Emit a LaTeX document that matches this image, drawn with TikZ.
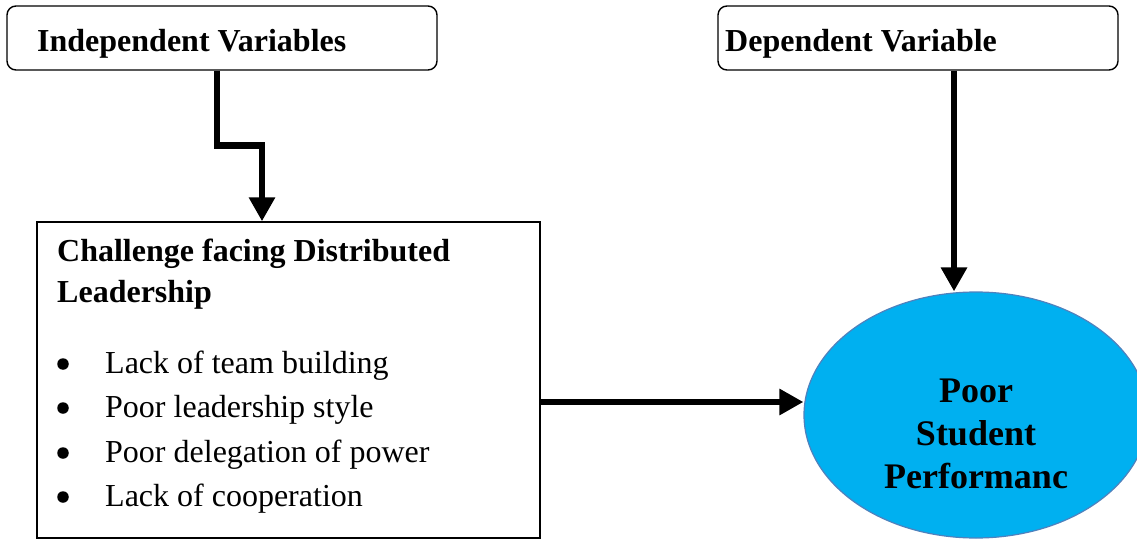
\documentclass[tikz,border=0pt]{standalone}
\usepackage{fontspec}
\setmainfont{Liberation Serif}
\usetikzlibrary{positioning,shapes.geometric,arrows.meta}
\definecolor{PerfBlue}{HTML}{00B0F0}
\definecolor{PerfEdge}{HTML}{4F81BD}
\newcommand{\varfont}{\fontsize{32}{38}\selectfont\bfseries}
\newcommand{\itemfont}{\fontsize{32}{38}\selectfont}
\newcommand{\perffont}{\fontsize{36}{43}\selectfont\bfseries}

\begin{document}
\begin{tikzpicture}[x=1pt, y=-1pt, every node/.style={inner sep=0pt},
  flow/.style={line width=6.5pt, -{Triangle[length=24pt,width=25pt]}},
  varbox/.style={draw, rounded corners=9pt, line width=1.4pt, minimum height=64pt},
  bullet/.style={circle, fill, minimum size=11.5pt}]
  \useasboundingbox (0,0) rectangle (1137,540);
  % Variable boxes
  \node[varbox, minimum width=430pt] (indep) at (222,38) {};
  \node[anchor=base west, font=\varfont] (indeplabel) at (37,52) {Independent Variables};
  \node[varbox, minimum width=400pt] (dep) at (918,38) {};
  \node[anchor=base west, font=\varfont] (deplabel) at (725,52) {Dependent Variable};
  % Challenge box
  \node[draw, line width=1.4pt, minimum width=503pt, minimum height=316pt] (chbox) at (288.5,380) {};
  \node[anchor=base west, font=\varfont] (chhead1) at (57,261) {Challenge facing Distributed};
  \node[anchor=base west, font=\varfont] (chhead2) at (57,302) {Leadership};
  \node[bullet] (dot1) at (63,364) {};
  \node[anchor=base west, font=\itemfont] (item1) at (105,373) {Lack of team building};
  \node[bullet] (dot2) at (63,408) {};
  \node[anchor=base west, font=\itemfont] (item2) at (105,417) {Poor leadership style};
  \node[bullet] (dot3) at (63,453) {};
  \node[anchor=base west, font=\itemfont] (item3) at (105,462) {Poor delegation of power};
  \node[bullet] (dot4) at (63,497) {};
  \node[anchor=base west, font=\itemfont] (item4) at (105,506) {Lack of cooperation};
  % Outcome
  \node[ellipse, draw=PerfEdge, fill=PerfBlue, line width=1.2pt, minimum width=344pt, minimum height=246pt] (perf) at (976,415) {};
  \node[anchor=base, font=\perffont] (perf1) at (976,402) {Poor};
  \node[anchor=base, font=\perffont] (perf2) at (976,445) {Student};
  \node[anchor=base, font=\perffont] (perf3) at (976,488) {Performanc};
  % Arrows
  \draw[flow] ([xshift=-5pt]indep.south) -- ++(0,75) -| ([xshift=-26.5pt]chbox.north);
  \draw[flow] ([xshift=36pt]dep.south) -- ([xshift=36pt]dep.south |- perf.north);
  \draw[flow] ([yshift=-22pt]chbox.east) -- ([yshift=-22pt]chbox.east -| perf.west);
\end{tikzpicture}
\end{document}
